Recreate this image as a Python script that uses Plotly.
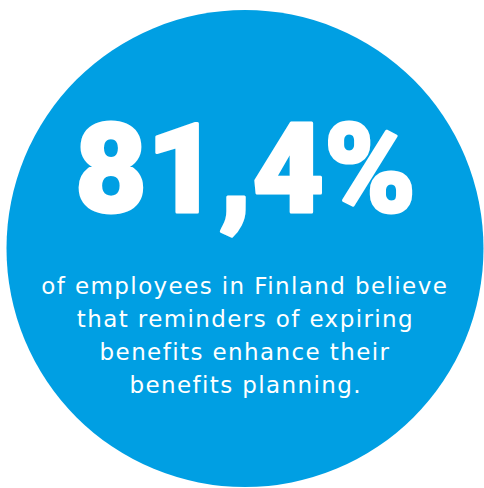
import plotly.graph_objects as go

W, H = 484, 488
headline = "81,4%"
body_lines = [
    "of employees in Finland believe",
    "that reminders of expiring",
    "benefits enhance their",
    "benefits planning.",
]
circle_color = "#009FE3"
cx, cy, r = 245, 248.5, 238.5

fig = go.Figure()
fig.add_shape(type="circle", xref="x", yref="y",
              x0=cx - r, x1=cx + r, y0=H - (cy + r), y1=H - (cy - r),
              fillcolor=circle_color, line=dict(width=0), layer="below")

fig.add_annotation(x=cx, y=H - 213, xref="x", yref="y", text=headline,
                   showarrow=False, xanchor="center", yanchor="bottom", yshift=-31,
                   font=dict(family="Roboto", size=124, color="white", weight=900))

baselines = [293, 326, 359, 392]
for txt, b in zip(body_lines, baselines):
    fig.add_annotation(x=cx, y=H - b, xref="x", yref="y", text=txt,
                       showarrow=False, xanchor="center", yanchor="middle", yshift=7,
                       font=dict(family="DejaVu Sans", size=23, color="white"))

fig.update_layout(width=W, height=H, margin=dict(l=0, r=0, t=0, b=0),
                  paper_bgcolor="white", plot_bgcolor="white", showlegend=False)
fig.update_xaxes(range=[0, W], visible=False, fixedrange=True)
fig.update_yaxes(range=[0, H], visible=False, fixedrange=True)

post = """
document.body.style.margin='0';document.body.style.overflow='hidden';
var t = document.querySelectorAll('.annotation-text');
for (var i = 0; i < t.length; i++) {
  if (i === 0) { t[i].style.stroke = 'white'; t[i].style.strokeWidth = '3px'; t[i].style.strokeLinejoin='round'; }
  else { t[i].style.letterSpacing = '1.4px'; }
}
"""
fig.write_html("out.html", config={"displayModeBar": False}, post_script=post)
